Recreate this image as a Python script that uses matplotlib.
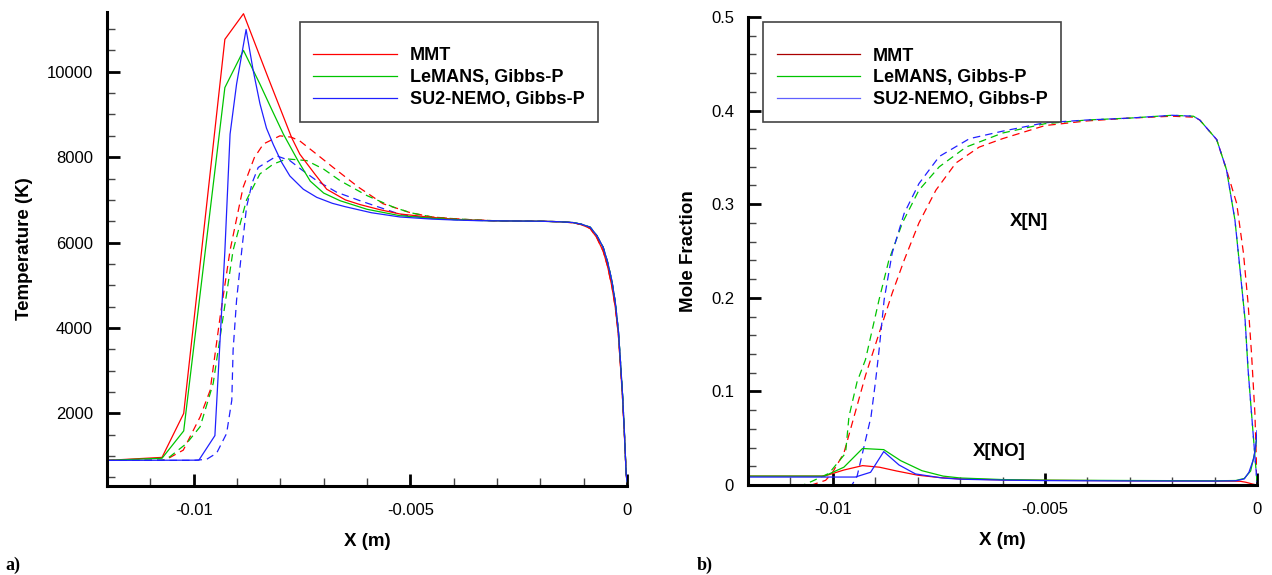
import numpy as np
import matplotlib
matplotlib.use("Agg")
import matplotlib.pyplot as plt
from matplotlib.lines import Line2D
from matplotlib.ticker import MultipleLocator

plt.rcParams['font.family'] = ['Liberation Sans', 'DejaVu Sans']

# ---------------- data (x in m) ----------------
labels = ['MMT', 'LeMANS, Gibbs-P', 'SU2-NEMO, Gibbs-P']
colors = ['#ff0000', '#00c400', '#2020ff']

# shared wall tail for the temperature curves
tail_x = [-0.003, -0.002, -0.0016, -0.00125, -0.00105, -0.00085, -0.0007, -0.00055, -0.00045,
          -0.00035, -0.00027, -0.0002, -0.00015, -0.0001, -0.00006, -0.00002, 0.0]
tail_T = [6510, 6500, 6490, 6470, 6430, 6360, 6170, 5890, 5550, 5110, 4600, 3950, 3200, 2390,
          1550, 600, 400]
tail_T_mmt = [6510, 6500, 6490, 6465, 6420, 6330, 6120, 5800, 5450, 4980, 4480, 3850, 3100,
              2300, 1500, 600, 400]

# translational temperature (solid)
mmt_T_x = [-0.012, -0.01073, -0.01023, -0.00928, -0.00885, -0.0083, -0.00774, -0.00755, -0.00720,
           -0.00693, -0.00650, -0.00616, -0.00570, -0.00524, -0.0045, -0.0040, -0.0035]
mmt_T = [900, 970, 2000, 10760, 11360, 9910, 8460, 8070, 7600, 7250, 7000, 6890, 6770, 6670,
         6590, 6550, 6525]
lem_T_x = [-0.012, -0.01073, -0.01023, -0.00928, -0.00885, -0.00847, -0.0082, -0.00793, -0.0076,
           -0.00731, -0.0070, -0.00662, -0.00600, -0.00524, -0.0045, -0.0040, -0.0035]
lem_T = [900, 950, 1590, 9630, 10500, 9710, 9120, 8540, 7930, 7440, 7160, 6980, 6780, 6630,
         6570, 6540, 6520]
su2_T_x = [-0.012, -0.00988, -0.00951, -0.00928, -0.00916, -0.00901, -0.00879, -0.00863, -0.00847,
           -0.00832, -0.00816, -0.00797, -0.00778, -0.00747, -0.00716, -0.0068, -0.00650, -0.00590,
           -0.00524, -0.0045, -0.0040, -0.0035]
su2_T = [900, 905, 1480, 5800, 8540, 9710, 10990, 10050, 9250, 8680, 8290, 7880, 7560, 7250,
         7060, 6920, 6840, 6700, 6600, 6550, 6530, 6515]

# vibrational-electronic temperature (dashed)
mmt_Tve_x = [-0.012, -0.0107, -0.01058, -0.01024, -0.00985, -0.00962, -0.00939, -0.00916,
             -0.00886, -0.0086, -0.00839, -0.00801, -0.00775, -0.00755, -0.0072, -0.00678,
             -0.0062, -0.00563, -0.0050, -0.0045, -0.0040, -0.0035]
mmt_Tve = [900, 905, 950, 1140, 1920, 2540, 4260, 5820, 7290, 7990, 8310, 8500, 8470, 8380,
           8100, 7760, 7300, 6910, 6700, 6600, 6560, 6530]
lem_Tve_x = [-0.012, -0.0107, -0.01055, -0.01016, -0.00985, -0.00955, -0.00932, -0.00909,
             -0.00878, -0.00847, -0.00816, -0.00785, -0.00739, -0.007, -0.00662, -0.006,
             -0.00539, -0.0050, -0.0045, -0.0040, -0.0035]
lem_Tve = [900, 905, 985, 1300, 1690, 2700, 4260, 5820, 7000, 7610, 7840, 7960, 7920, 7720,
           7450, 7100, 6830, 6700, 6600, 6560, 6530]
su2_Tve_x = [-0.012, -0.0100, -0.0097, -0.00947, -0.00924, -0.00912, -0.00909, -0.00901,
             -0.00889, -0.00878, -0.00865, -0.00851, -0.00808, -0.00778, -0.0075, -0.00716,
             -0.0067, -0.00616, -0.0052, -0.0045, -0.0040, -0.0035]
su2_Tve = [900, 900, 925, 1070, 1530, 2310, 3480, 4650, 5820, 6830, 7400, 7760, 8030, 7920,
           7700, 7450, 7180, 6980, 6650, 6570, 6540, 6520]

# mole fraction of N (dashed)
mmt_N_x = [-0.012, -0.0105, -0.01017, -0.01002, -0.00974, -0.00923, -0.00891, -0.00860, -0.00832,
           -0.00797, -0.00757, -0.00710, -0.00655, -0.0060, -0.0050, -0.0040, -0.0030, -0.0020,
           -0.0015, -0.00135, -0.00095, -0.00072, -0.00048, -0.00032, -0.00021, -0.00013, -0.00005, 0.0]
mmt_N = [0, 0, 0.005, 0.0125, 0.034, 0.117, 0.162, 0.205, 0.240, 0.280, 0.315, 0.344, 0.361, 0.370,
         0.384, 0.389, 0.392, 0.394, 0.393, 0.390, 0.369, 0.337, 0.301, 0.248, 0.194, 0.141, 0.077, 0.005]
lem_N_x = [-0.012, -0.0107, -0.01049, -0.01009, -0.00970, -0.00962, -0.00943, -0.00923, -0.00891,
           -0.00868, -0.00836, -0.00797, -0.00749, -0.00686, -0.0060, -0.0050, -0.0040, -0.0030,
           -0.0020, -0.0015, -0.00135, -0.00095, -0.00072, -0.00052, -0.0004, -0.00028, -0.00021,
           -0.00013, 0.0]
lem_N = [0, 0, 0.004, 0.0125, 0.034, 0.073, 0.110, 0.134, 0.198, 0.240, 0.280, 0.315, 0.340, 0.361,
         0.376, 0.386, 0.390, 0.392, 0.395, 0.394, 0.390, 0.369, 0.337, 0.283, 0.230, 0.176, 0.123,
         0.077, 0.003]
su2_N_x = [-0.012, -0.00955, -0.00943, -0.0091, -0.00899, -0.00891, -0.00879, -0.00860, -0.00832,
           -0.00797, -0.00749, -0.00678, -0.0060, -0.0050, -0.0040, -0.0030, -0.0020, -0.0015,
           -0.00135, -0.00095, -0.00072, -0.00052, -0.0004, -0.00028, -0.00021, -0.00013, -0.00003, 0.0]
su2_N = [0, 0, 0.009, 0.073, 0.112, 0.144, 0.198, 0.248, 0.290, 0.322, 0.351, 0.370, 0.378, 0.387,
         0.390, 0.392, 0.395, 0.394, 0.390, 0.369, 0.337, 0.283, 0.230, 0.176, 0.123, 0.077, 0.02, 0.003]

# mole fraction of NO (solid)
mmt_NO_x = [-0.012, -0.0102, -0.00974, -0.0093, -0.0089, -0.0085, -0.0080, -0.0075, -0.0070,
            -0.006, -0.005, -0.003, -0.001, -0.0004, -0.00027, -0.0001, 0.0]
mmt_NO = [0.0095, 0.0095, 0.016, 0.0207, 0.019, 0.015, 0.0105, 0.008, 0.0065, 0.0055, 0.005,
          0.0045, 0.0042, 0.004, 0.003, 0.001, 0.0]
lem_NO_x = [-0.012, -0.0102, -0.00974, -0.0093, -0.0088, -0.0084, -0.0079, -0.0074, -0.0070,
            -0.006, -0.005, -0.003, -0.001, -0.0005, -0.0003, -0.00015, -0.00005, 0.0]
lem_NO = [0.0095, 0.0095, 0.019, 0.039, 0.0378, 0.026, 0.0153, 0.0095, 0.0075, 0.0058, 0.0052,
          0.0048, 0.0045, 0.0048, 0.007, 0.015, 0.035, 0.052]
su2_NO_x = [-0.012, -0.00947, -0.00911, -0.0088, -0.00844, -0.00805, -0.00742, -0.007, -0.006,
            -0.005, -0.003, -0.001, -0.0005, -0.0003, -0.00019, -0.00008, -0.00003, 0.0]
su2_NO = [0.0085, 0.0085, 0.0136, 0.0357, 0.0214, 0.0118, 0.0075, 0.0062, 0.0052, 0.0047,
          0.0043, 0.0042, 0.0045, 0.0065, 0.0136, 0.028, 0.042, 0.058]

# ---------------- figure ----------------
fig = plt.figure(figsize=(12.72, 5.75), dpi=100)
axL = fig.add_axes([107/1272, 89/575, 520/1272, 474/575])
axR = fig.add_axes([748/1272, 90/575, 509/1272, 468/575])

dash = (0, (6, 4))
lw = 0.9

T_solid = [(mmt_T_x + tail_x, mmt_T + tail_T_mmt),
           (lem_T_x + tail_x, lem_T + tail_T),
           (su2_T_x + tail_x, su2_T + tail_T)]
T_dash = [(mmt_Tve_x + tail_x, mmt_Tve + tail_T_mmt),
          (lem_Tve_x + tail_x, lem_Tve + tail_T),
          (su2_Tve_x + tail_x, su2_Tve + tail_T)]
for (x, y), c in zip(T_dash, colors):
    axL.plot(x, y, color=c, lw=lw, ls=dash)
handles = []
for (x, y), c, lab in zip(T_solid, colors, labels):
    h, = axL.plot(x, y, color=c, lw=lw, label=lab)
    handles.append(h)

for x, y, c in zip([mmt_N_x, lem_N_x, su2_N_x], [mmt_N, lem_N, su2_N], colors):
    axR.plot(x, y, color=c, lw=lw, ls=dash)
for x, y, c in zip([mmt_NO_x, lem_NO_x, su2_NO_x], [mmt_NO, lem_NO, su2_NO], colors):
    axR.plot(x, y, color=c, lw=lw)

axL.set_xlim(-0.012, 0)
axL.set_ylim(300, 11400)
axR.set_xlim(-0.012, 0)
axR.set_ylim(0, 0.5)

axL.xaxis.set_major_locator(MultipleLocator(0.005))
axL.xaxis.set_minor_locator(MultipleLocator(0.001))
axL.yaxis.set_major_locator(MultipleLocator(2000))
axL.yaxis.set_minor_locator(MultipleLocator(500))
axR.xaxis.set_major_locator(MultipleLocator(0.005))
axR.xaxis.set_minor_locator(MultipleLocator(0.001))
axR.yaxis.set_major_locator(MultipleLocator(0.1))
axR.yaxis.set_minor_locator(MultipleLocator(0.02))

axL.set_xticks([-0.01, -0.005, 0])
axL.set_xticklabels(['-0.01', '-0.005', '0'])
axR.set_xticks([-0.01, -0.005, 0])
axR.set_xticklabels(['-0.01', '-0.005', '0'])
axR.set_yticks([0, 0.1, 0.2, 0.3, 0.4, 0.5])
axR.set_yticklabels(['0', '0.1', '0.2', '0.3', '0.4', '0.5'])

for ax in (axL, axR):
    for s in ('top', 'right'):
        ax.spines[s].set_visible(False)
    for s in ('left', 'bottom'):
        ax.spines[s].set_linewidth(2.2)
    ax.tick_params(which='major', direction='in', length=9, width=2, labelsize=12)
    ax.tick_params(axis='x', which='major', pad=12)
    ax.tick_params(axis='y', which='major', pad=10)
    ax.tick_params(which='minor', direction='in', length=6, width=1, color='#444444')
    ax.set_xlabel('X (m)', fontsize=13.5, fontweight='bold', labelpad=11)

axL.set_ylabel('Temperature (K)', fontsize=13.5, fontweight='bold', labelpad=10)
axR.set_ylabel('Mole Fraction', fontsize=13.5, fontweight='bold', labelpad=10)

axR.text(-0.00537, 0.281, 'X[N]', fontsize=13.5, fontweight='bold', ha='center', va='center')
axR.text(-0.00608, 0.036, 'X[NO]', fontsize=13.5, fontweight='bold', ha='center', va='center')

leg_kw = dict(loc='upper left', frameon=True, fancybox=False, edgecolor='#444444', framealpha=1,
              handlelength=4.6, handletextpad=0.72, borderpad=0.75, labelspacing=0.27,
              borderaxespad=0, title=' ', title_fontsize=6,
              prop={'weight': 'bold', 'size': 13})
legL = axL.legend(handles=handles, bbox_to_anchor=(0.371, 0.979), **leg_kw)
legL.get_frame().set_linewidth(1.2)

r_handles = [Line2D([], [], color=c, lw=lw) for c in ['#aa0000', '#00c400', '#6060ff']]
legR = axR.legend(handles=r_handles, labels=labels, bbox_to_anchor=(0.0295, 0.989), **leg_kw)
legR.get_frame().set_linewidth(1.2)

fig.text(5/1272, 1 - 565/575, 'a)', fontsize=13, fontweight='bold', family='Liberation Serif', va='center')
fig.text(697/1272, 1 - 565/575, 'b)', fontsize=13, fontweight='bold', family='Liberation Serif', va='center')

fig.savefig('out.png', dpi=100)
